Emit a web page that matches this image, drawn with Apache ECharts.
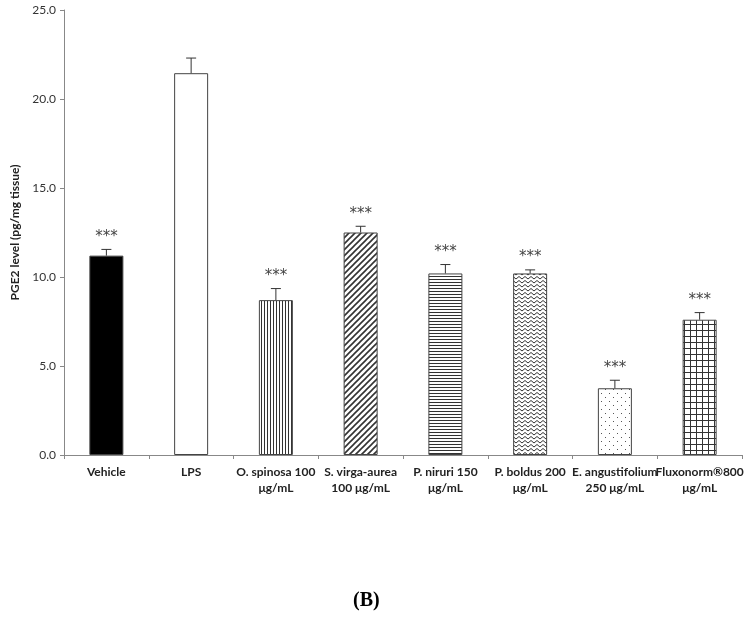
<!DOCTYPE html>
<html>
<head>
<meta charset="utf-8">
<script src="https://cdn.jsdelivr.net/npm/echarts@6/dist/echarts.min.js"></script>
<style>
html,body{margin:0;padding:0;background:#fff;}
#c{width:750px;height:622px;}
</style>
</head>
<body>
<div id="c"></div>
<script>
const categories = ["Vehicle", "LPS", "O. spinosa 100\nμg/mL", "S. virga-aurea\n100 μg/mL", "P. niruri 150\nμg/mL", "P. boldus 200\nμg/mL", "E. angustifolium\n250 μg/mL", "Fluxonorm®800\nμg/mL"];
const values = [11.2, 21.45, 8.7, 12.5, 10.2, 10.2, 3.75, 7.6];
const errors = [0.35, 0.85, 0.65, 0.35, 0.5, 0.2, 0.45, 0.4];
const marks = ["***", "", "***", "***", "***", "***", "***", "***"];
const yTicks = [0, 5, 10, 15, 20, 25];

function pat(w, h, draw) {
  const c = document.createElement('canvas');
  c.width = w; c.height = h;
  const g = c.getContext('2d');
  g.fillStyle = '#fff'; g.fillRect(0, 0, w, h);
  g.strokeStyle = '#333'; g.fillStyle = '#333';
  draw(g);
  return { image: c, repeat: 'repeat' };
}
const patterns = [
  '#000',
  '#fff',
  pat(3, 4, g => { g.lineWidth = 1; g.beginPath(); g.moveTo(0.5, 0); g.lineTo(0.5, 4); g.stroke(); }),
  pat(6, 6, g => { g.lineWidth = 1.6; g.beginPath(); g.moveTo(-1, 7); g.lineTo(7, -1); g.moveTo(-4, 4); g.lineTo(4, -4); g.moveTo(2, 10); g.lineTo(10, 2); g.stroke(); }),
  pat(4, 3, g => { g.lineWidth = 1; g.beginPath(); g.moveTo(0, 0.5); g.lineTo(4, 0.5); g.stroke(); }),
  pat(6, 4, g => { g.lineWidth = 1; g.beginPath(); g.moveTo(0, 3); g.lineTo(3, 0.5); g.lineTo(6, 3); g.stroke(); }),
  pat(8, 8, g => { g.fillStyle = '#555'; g.fillRect(1, 1, 1, 1); g.fillRect(5, 5, 1, 1); }),
  pat(6, 6, g => { g.lineWidth = 1; g.beginPath(); g.moveTo(0.5, 0); g.lineTo(0.5, 6); g.moveTo(0, 0.5); g.lineTo(6, 0.5); g.stroke(); })
];

const chart = echarts.init(document.getElementById('c'));
chart.setOption({
  animation: false,
  backgroundColor: '#fff',
  grid: { left: 64, right: 8, top: 10, bottom: 167, containLabel: false },
  xAxis: {
    type: 'category',
    data: categories,
    axisLine: { lineStyle: { color: '#888', width: 1 } },
    axisTick: { show: true, length: 4, lineStyle: { color: '#888' } },
    axisLabel: { interval: 0, color: '#222', fontWeight: 'bold', fontSize: 12, fontFamily: 'Lato, "Open Sans", sans-serif', lineHeight: 16, margin: 9 }
  },
  yAxis: {
    type: 'value', min: 0, max: 25, interval: 5,
    name: 'PGE2 level (pg/mg tissue)',
    nameLocation: 'middle', nameGap: 34,
    nameTextStyle: { color: '#222', fontWeight: 'bold', fontSize: 12, fontFamily: 'Lato, "Open Sans", sans-serif' },
    axisLine: { show: true, lineStyle: { color: '#888' } },
    axisTick: { show: true, length: 4, lineStyle: { color: '#888' } },
    splitLine: { show: false },
    axisLabel: { color: '#333', fontSize: 12, fontFamily: 'Lato, "Open Sans", sans-serif', margin: 8, formatter: v => v.toFixed(1) }
  },
  series: [
    {
      type: 'bar', barWidth: 34,
      data: values.map((v, i) => ({ value: v, itemStyle: { color: patterns[i] } })),
      itemStyle: { borderColor: '#444', borderWidth: 1 }
    },
    {
      type: 'custom',
      data: values.map((v, i) => [i, v, v + errors[i]]),
      renderItem: (params, api) => {
        const i = api.value(0);
        const p0 = api.coord([i, api.value(1)]);
        const p1 = api.coord([i, api.value(2)]);
        const children = [
          { type: 'line', shape: { x1: p0[0], y1: p0[1], x2: p1[0], y2: p1[1] }, style: { stroke: '#333', lineWidth: 1 } },
          { type: 'line', shape: { x1: p1[0] - 5, y1: p1[1], x2: p1[0] + 5, y2: p1[1] }, style: { stroke: '#333', lineWidth: 1 } }
        ];
        if (marks[i]) children.push({ type: 'text', x: p1[0], y: p1[1] - 5, style: { text: marks[i], fill: '#444', font: '15px "DejaVu Sans", sans-serif', align: 'center', verticalAlign: 'bottom' } });
        return { type: 'group', children };
      },
      z: 5
    }
  ],
  graphic: [
    { type: 'text', left: 353, top: 591, style: { text: '(B)', font: 'bold 20px "Liberation Serif", serif', fill: '#000' } }
  ]
});
</script>
</body>
</html>
